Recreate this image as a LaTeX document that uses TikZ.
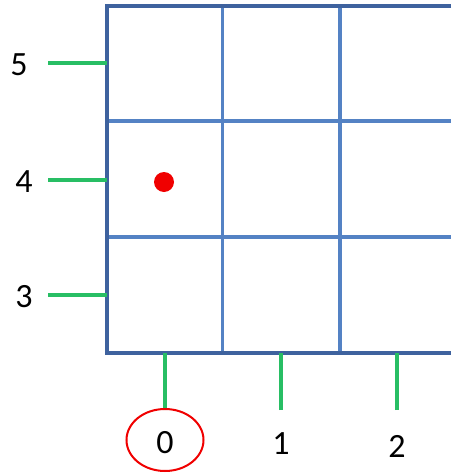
\documentclass[tikz,border=0pt]{standalone}
\usepackage{fontspec}
\setmainfont{Carlito}
\usepackage{tikz}
\usetikzlibrary{positioning, calc, shapes.geometric}
\definecolor{gridblue}{RGB}{84, 130, 196}
\definecolor{edgeblue}{RGB}{62, 98, 158}
\definecolor{tickgreen}{RGB}{40, 190, 100}
\definecolor{markred}{RGB}{240, 0, 0}

\tikzset{
  gridline/.style={draw=gridblue, line width=3.2pt},
  edgeline/.style={draw=edgeblue, line width=3.2pt},
  tickline/.style={draw=tickgreen, line width=3.2pt},
  numlabel/.style={font=\fontsize{34}{40}\selectfont, inner sep=0pt}
}

\begin{document}
\begin{tikzpicture}[x=1pt, y=-1pt]
  \useasboundingbox (0,0) rectangle (451,474);
  % grid cells
  \draw[gridline] (222.5,6) -- (222.5,353) (340,6) -- (340,353)
                  (107,121) -- (451,121) (107,237) -- (451,237);
  \draw[edgeline] (451,6) -- (107,6) -- (107,353) -- (451,353);

  % row ticks and labels
  \node[numlabel] (y5) at (19,65) {5};
  \node[numlabel] (y4) at (24,182) {4};
  \node[numlabel] (y3) at (24,297) {3};
  \coordinate (t5) at (48,63);
  \coordinate (t4) at (48,180);
  \coordinate (t3) at (48,295);
  \foreach \t in {t5,t4,t3}
    \draw[tickline] (\t) -- (\t -| 107,0);

  % column ticks and labels
  \node[numlabel] (x0) at (165,443) {0};
  \node[numlabel] (x1) at (281,444) {1};
  \node[numlabel] (x2) at (397,446) {2};
  \coordinate (b0) at (165,410);
  \coordinate (b1) at (281,410);
  \coordinate (b2) at (397,410);
  \foreach \t in {b0,b1,b2}
    \draw[tickline] (\t) -- (\t |- 0,353);

  % marked point and origin
  \node[circle, fill=markred, minimum size=20pt, inner sep=0pt] (pt) at (164,182) {};
  \node[ellipse, draw=markred, line width=2pt, minimum width=77pt,
        minimum height=62pt] (orig) at (165,440) {};
\end{tikzpicture}
\end{document}
